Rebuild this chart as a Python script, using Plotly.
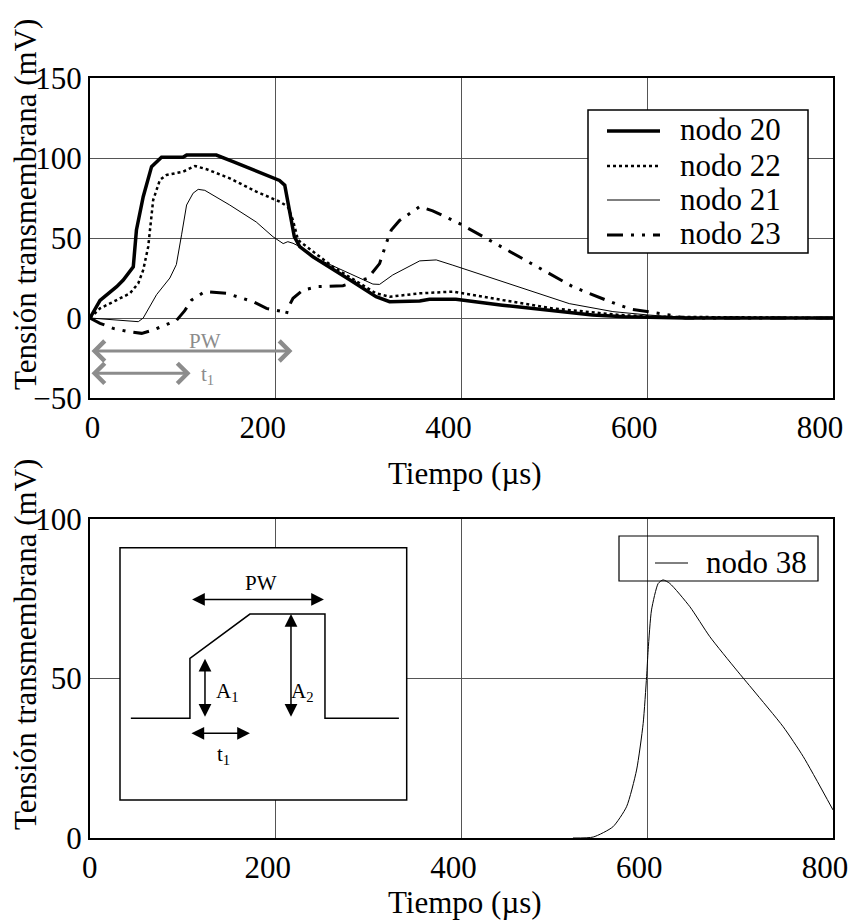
import plotly.graph_objects as go

# ---------------- data (top panel) ----------------
n20_x = [0, 10.8, 28.7, 35.8, 46.6, 48.4, 50, 57.3, 66.3, 77, 100, 104, 136, 154, 204, 209.7, 215, 220, 225.8, 240,
         280, 308, 322.6, 355, 365.6, 394, 444, 498, 541, 576, 641, 800]
n20_y = [0, 11, 19.6, 23.7, 32, 44.6, 55, 75.8, 94.6, 100.5, 100.5, 101.8, 101.8, 97.7, 86, 83, 67.5, 50.8, 44.6, 38.3,
         23.7, 13.3, 10.2, 10.7, 11.7, 11.7, 8, 4.6, 1.9, 0.8, 0, 0]

n22_x = [0, 10.8, 28.7, 43, 52, 57.3, 62.7, 68, 75.3, 82.5, 100, 113, 125.5, 150.5, 179, 204.3, 213, 218.6, 224,
         261.6, 308, 322.6, 355, 391, 444, 498, 570, 606, 800]
n22_y = [0, 6, 11.2, 15.4, 21.7, 30, 44.6, 73.7, 86.3, 89.4, 91.4, 95, 93, 87.3, 79, 72.7, 69.6, 61, 48.7,
         32, 15.4, 13.3, 15.4, 16.5, 11.2, 6, 1.9, 0.8, 0]

n21_x = [0, 52, 57.3, 71.7, 86, 93, 98.6, 104, 111, 116.5, 123.6, 150.5, 179, 197, 208, 213, 218.6, 225.8, 243.7,
         304.6, 311.8, 326, 355, 372.8, 390.7, 462, 516, 563, 600.6, 641, 800]
n21_y = [0, -2.3, 0, 14.6, 25, 33.4, 52, 70.6, 78, 80.4, 79.8, 70.6, 60, 50.8, 46.5, 47.7, 46.7, 44.6, 37.3,
         21.2, 21, 26.9, 35.7, 36.3, 33, 19.6, 9, 4, 1.9, 0.2, 0]

n23_x = [0, 10.8, 25, 41.2, 55.6, 68, 93, 102, 109.3, 123.6, 147, 165, 175.6, 190, 208, 211.5, 213, 218.6, 229.4,
         245.6, 272.4, 299, 311.8, 319, 324.4, 333.3, 355, 369, 398, 430, 462, 494.6, 519.7, 555.6, 570, 584,
         602, 623.7, 641, 800]
n23_y = [0, -3.3, -6.5, -8.5, -9.6, -7.5, -1.6, 4.6, 11.2, 16.5, 15.4, 12.3, 10.2, 6, 4, 2.3, 6, 12.3, 17.5,
         19.6, 20.2, 24.8, 34, 46.7, 55, 61, 69.6, 67, 59, 48.7, 38.3, 27.9, 19.6, 11.2, 8, 5.4,
         4, 1.9, 0, 0]

# ---------------- data (bottom panel) ----------------
n38_x = [520, 541.8, 563, 577.7, 588.5, 595.6, 599.3, 601, 604.6, 611.8, 617, 624.3, 645.9, 667.4, 696, 714,
         746.3, 768, 800]
n38_y = [0, 0.3, 3.5, 9.8, 21.3, 35.9, 50.6, 59, 71.5, 79.8, 80.9, 79.8, 72.5, 63.1, 52.7, 46.4,
         34.9, 25.5, 8.8]

x_ticks = [0, 200, 400, 600, 800]
x_tick_labels = ["0", "200", "400", "600", "800"]
top_y_ticks = [-50, 0, 50, 100, 150]
bot_y_ticks = [0, 50, 100]

top_names = ["nodo 20", "nodo 22", "nodo 21", "nodo 23"]
bot_names = ["nodo 38"]

FONT = "Liberation Serif, Times New Roman, serif"
W, H = 849, 920
FS = "\u2007"  # figure space (digit width) used to nudge the "0" label

styles = {
    "nodo 20": dict(color="black", width=3.5),
    "nodo 22": dict(color="black", width=2.5, dash="dot"),
    "nodo 21": dict(color="black", width=1),
    "nodo 23": dict(color="black", width=3, dash="16px,8px,3px,8px,3px,8px"),
    "nodo 38": dict(color="black", width=1),
}

fig = go.Figure()
for name, xs, ys in zip(top_names, [n20_x, n22_x, n21_x, n23_x], [n20_y, n22_y, n21_y, n23_y]):
    fig.add_trace(go.Scatter(x=xs, y=ys, name=name, mode="lines", line=styles[name],
                             xaxis="x", yaxis="y", showlegend=False))
fig.add_trace(go.Scatter(x=n38_x, y=n38_y, name=bot_names[0], mode="lines",
                         line=dict(styles["nodo 38"], shape="spline", smoothing=0.6),
                         xaxis="x2", yaxis="y2", showlegend=False))

def px_x(p):
    return p / W

def px_y(p):
    return 1 - p / H

axis_common = dict(showline=True, mirror=True, linecolor="black", linewidth=2,
                   showgrid=True, gridcolor="#555", gridwidth=1, zeroline=False,
                   ticks="", automargin=False, ticklabeloverflow="allow",
                   tickfont=dict(family=FONT, size=31, color="black"))

top_x_text = [FS * 2 + x_tick_labels[0]] + x_tick_labels[1:]
bot_x_text = [FS + x_tick_labels[0]] + x_tick_labels[1:]

fig.update_layout(
    template="none",
    width=W, height=H, margin=dict(l=0, r=0, t=0, b=0, autoexpand=False),
    paper_bgcolor="white", plot_bgcolor="white",
    font=dict(family=FONT, color="black"),
    showlegend=False,
    xaxis=dict(domain=[px_x(90), px_x(833)], range=[0, 800], tickvals=x_ticks, ticktext=top_x_text,
               anchor="y", ticklabelstandoff=1, ticklabelshift=-13, **axis_common),
    yaxis=dict(domain=[px_y(398), px_y(78)], range=[-50, 150], tickvals=top_y_ticks, anchor="x",
               ticklabelstandoff=0, **axis_common),
    xaxis2=dict(domain=[px_x(90), px_x(833)], range=[0, 800], tickvals=x_ticks, ticktext=bot_x_text,
                anchor="y2", ticklabelstandoff=1, ticklabelshift=-8, **axis_common),
    yaxis2=dict(domain=[px_y(838), px_y(519)], range=[0, 100], tickvals=bot_y_ticks, anchor="x2",
                ticklabelstandoff=0, **axis_common),
)

ann = []
shapes = []

def text_ann(text, x, y, size=30, color="black", xref="paper", yref="paper", xanchor="center", **kw):
    return dict(text=text, x=x, y=y, xref=xref, yref=yref, xanchor=xanchor, yanchor="middle",
                showarrow=False, font=dict(family=FONT, size=size, color=color), **kw)

# axis titles
ann.append(text_ann("Tiempo (µs)", px_x(465), px_y(473), size=31))
ann.append(text_ann("Tiempo (µs)", px_x(465), px_y(902), size=31))
ann.append(text_ann("Tensión transmembrana (mV)", px_x(25), px_y(205), size=31, textangle=-90))
ann.append(text_ann("Tensión transmembrana (mV)", px_x(25), px_y(645), size=31, textangle=-90))

# ---- top legend (drawn box) ----
shapes.append(dict(type="rect", xref="paper", yref="paper", x0=px_x(588), x1=px_x(808),
                   y0=px_y(253), y1=px_y(110), fillcolor="white",
                   line=dict(color="black", width=1.5), layer="above"))
leg_rows = [131, 166, 200, 235]
for name, yy in zip(top_names, leg_rows):
    shapes.append(dict(type="line", xref="paper", yref="paper", x0=px_x(607), x1=px_x(660),
                       y0=px_y(yy), y1=px_y(yy), line=styles[name], layer="above"))
    ann.append(text_ann(name, px_x(678), px_y(yy - 1), size=31, xanchor="left"))

# ---- bottom legend (drawn box, transparent) ----
shapes.append(dict(type="rect", xref="paper", yref="paper", x0=px_x(619), x1=px_x(818),
                   y0=px_y(581), y1=px_y(536), line=dict(color="black", width=1.2), layer="above"))
shapes.append(dict(type="line", xref="paper", yref="paper", x0=px_x(655), x1=px_x(688),
                   y0=px_y(563), y1=px_y(563), line=styles["nodo 38"], layer="above"))
ann.append(text_ann(bot_names[0], px_x(704), px_y(562), size=31, xanchor="left"))

# top panel gray arrows
gray = "#8c8c8c"
for xe, yv in [(218, -20.6), (108.3, -34.6)]:
    ann.append(dict(x=xe, y=yv, ax=0, ay=yv, xref="x", yref="y", axref="x", ayref="y", text="",
                    showarrow=True, arrowhead=4, startarrowhead=4, arrowside="end+start",
                    arrowcolor=gray, arrowwidth=3, arrowsize=1.3, startarrowsize=1.3))
ann.append(text_ann("PW", 123.7, -14.5, size=21, color=gray, xref="x", yref="y"))
ann.append(text_ann("t<sub>1</sub>", 127, -35.5, size=21, color=gray, xref="x", yref="y"))

# inset diagram arrows (bottom panel)
def arrow2(x0, y0, x1, y1):
    return dict(x=x1, y=y1, ax=x0, ay=y0, xref="x2", yref="y2", axref="x2", ayref="y2", text="",
                showarrow=True, arrowhead=2, startarrowhead=2, arrowside="end+start",
                arrowcolor="black", arrowwidth=1.5, arrowsize=1.7, startarrowsize=1.7)

ann.append(arrow2(108.3, 74.8, 251.9, 74.8))
ann.append(arrow2(123.8, 37.5, 123.8, 56.2))
ann.append(arrow2(216.4, 37.5, 216.4, 70.2))
ann.append(arrow2(107.6, 32.8, 172.2, 32.8))
ann.append(text_ann("PW", 184.5, 79.8, size=21, xref="x2", yref="y2"))
ann.append(text_ann("A<sub>1</sub>", 148.5, 45.9, size=21, xref="x2", yref="y2"))
ann.append(text_ann("A<sub>2</sub>", 229.3, 45.9, size=21, xref="x2", yref="y2"))
ann.append(text_ann("t<sub>1</sub>", 143.2, 26, size=21, xref="x2", yref="y2"))

# inset frame (covers gridlines)
shapes.append(dict(type="rect", xref="x2", yref="y2", x0=32.3, x1=341, y0=11.9, y1=91,
                   fillcolor="white", line=dict(color="black", width=1.5), layer="above"))
# inset pulse schematic
shapes.append(dict(type="path", xref="x2", yref="y2",
                   path="M44,37.5 L107.6,37.5 L107.6,56.3 L172.2,70.2 L253,70.2 L253,37.5 L332.6,37.5",
                   line=dict(color="black", width=1.5), layer="above"))

fig.update_layout(annotations=ann, shapes=shapes)

fig.write_html("out.html")
